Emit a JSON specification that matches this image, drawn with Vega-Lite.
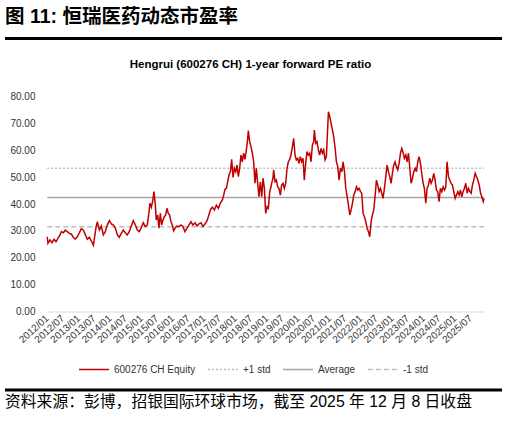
{
  "$schema": "https://vega.github.io/schema/vega-lite/v6.json",
  "background": "white",
  "padding": {"left": 5, "top": 7, "right": 6, "bottom": 5},
  "config": {
    "view": {"stroke": null},
    "font": "Liberation Sans",
    "title": {"color": "black"},
    "legend": {
      "orient": "bottom",
      "direction": "horizontal",
      "symbolType": "stroke",
      "symbolSize": 900,
      "symbolStrokeWidth": 1.5,
      "labelFontSize": 10,
      "labelFont": "Liberation Sans",
      "labelColor": "#333333",
      "labelOffset": 4,
      "columnPadding": 9,
      "offset": 9,
      "layout": {"bottom": {"anchor": "middle"}}
    }
  },
  "columns": 1,
  "spacing": 18.5,
  "resolve": {
    "scale": {"x": "independent", "y": "independent", "color": "independent", "strokeDash": "independent"},
    "legend": {"color": "independent", "strokeDash": "independent"}
  },
  "concat": [
    {
      "width": 497,
      "height": 3,
      "title": {
        "text": "图 11: 恒瑞医药动态市盈率",
        "anchor": "start",
        "font": "Liberation Sans, Noto Sans CJK SC",
        "fontSize": 19.5,
        "fontWeight": "bold",
        "offset": 9.5
      },
      "data": {"values": [{"from": 0, "to": 1}]},
      "mark": {"type": "rect", "color": "black"},
      "encoding": {
        "x": {"field": "from", "type": "quantitative", "scale": {"domain": [0, 1]}, "axis": null},
        "x2": {"field": "to"}
      }
    },
    {
      "columns": 1,
      "spacing": 14,
      "resolve": {
        "scale": {"x": "independent", "y": "independent", "color": "independent", "strokeDash": "independent"},
        "legend": {"color": "independent", "strokeDash": "independent"}
      },
      "concat": [
        {
          "width": 497,
          "height": 215,
          "title": {
            "text": "Hengrui (600276 CH) 1-year forward PE ratio",
            "font": "Liberation Sans",
            "fontSize": 11.5,
            "fontWeight": "bold",
            "anchor": "middle",
            "dx": -3,
            "offset": 21
          },
          "data": {
            "values": [
              {"series": "+1 std", "date": "2012-01-04", "pe": 53.3}, {"series": "+1 std", "date": "2025-12-08", "pe": 53.3},
              {"series": "Average", "date": "2012-01-04", "pe": 42.4}, {"series": "Average", "date": "2025-12-08", "pe": 42.4},
              {"series": "-1 std", "date": "2012-01-04", "pe": 31.5}, {"series": "-1 std", "date": "2025-12-08", "pe": 31.5},
              {"series": "600276 CH Equity", "date": "2012-01-04", "pe": 27.8}, {"series": "600276 CH Equity", "date": "2012-01-12", "pe": 25.4},
              {"series": "600276 CH Equity", "date": "2012-02-05", "pe": 26.6}, {"series": "600276 CH Equity", "date": "2012-02-28", "pe": 25.6},
              {"series": "600276 CH Equity", "date": "2012-03-23", "pe": 26.9}, {"series": "600276 CH Equity", "date": "2012-04-15", "pe": 26.0},
              {"series": "600276 CH Equity", "date": "2012-05-08", "pe": 27.2}, {"series": "600276 CH Equity", "date": "2012-06-01", "pe": 28.5},
              {"series": "600276 CH Equity", "date": "2012-06-16", "pe": 29.7}, {"series": "600276 CH Equity", "date": "2012-07-09", "pe": 29.3},
              {"series": "600276 CH Equity", "date": "2012-08-02", "pe": 30.3}, {"series": "600276 CH Equity", "date": "2012-08-25", "pe": 29.7},
              {"series": "600276 CH Equity", "date": "2012-09-17", "pe": 29.1}, {"series": "600276 CH Equity", "date": "2012-10-11", "pe": 28.8},
              {"series": "600276 CH Equity", "date": "2012-11-03", "pe": 27.6}, {"series": "600276 CH Equity", "date": "2012-11-26", "pe": 26.9},
              {"series": "600276 CH Equity", "date": "2012-12-19", "pe": 27.8}, {"series": "600276 CH Equity", "date": "2013-01-12", "pe": 29.3},
              {"series": "600276 CH Equity", "date": "2013-02-04", "pe": 30.8}, {"series": "600276 CH Equity", "date": "2013-02-27", "pe": 30.3},
              {"series": "600276 CH Equity", "date": "2013-03-23", "pe": 28.5}, {"series": "600276 CH Equity", "date": "2013-04-15", "pe": 26.9},
              {"series": "600276 CH Equity", "date": "2013-05-08", "pe": 27.6}, {"series": "600276 CH Equity", "date": "2013-05-31", "pe": 26.3},
              {"series": "600276 CH Equity", "date": "2013-06-24", "pe": 24.7}, {"series": "600276 CH Equity", "date": "2013-07-09", "pe": 27.8},
              {"series": "600276 CH Equity", "date": "2013-07-25", "pe": 31.3}, {"series": "600276 CH Equity", "date": "2013-08-09", "pe": 33.4},
              {"series": "600276 CH Equity", "date": "2013-09-02", "pe": 30.3}, {"series": "600276 CH Equity", "date": "2013-09-25", "pe": 31.8},
              {"series": "600276 CH Equity", "date": "2013-10-18", "pe": 28.5}, {"series": "600276 CH Equity", "date": "2013-11-10", "pe": 29.7},
              {"series": "600276 CH Equity", "date": "2013-12-03", "pe": 32.2}, {"series": "600276 CH Equity", "date": "2013-12-27", "pe": 33.8},
              {"series": "600276 CH Equity", "date": "2014-01-19", "pe": 32.6}, {"series": "600276 CH Equity", "date": "2014-02-11", "pe": 32.2},
              {"series": "600276 CH Equity", "date": "2014-03-07", "pe": 31.0}, {"series": "600276 CH Equity", "date": "2014-03-30", "pe": 28.5},
              {"series": "600276 CH Equity", "date": "2014-04-22", "pe": 27.6}, {"series": "600276 CH Equity", "date": "2014-05-16", "pe": 29.1},
              {"series": "600276 CH Equity", "date": "2014-06-08", "pe": 30.3}, {"series": "600276 CH Equity", "date": "2014-07-01", "pe": 29.3},
              {"series": "600276 CH Equity", "date": "2014-07-24", "pe": 28.5}, {"series": "600276 CH Equity", "date": "2014-08-16", "pe": 29.7},
              {"series": "600276 CH Equity", "date": "2014-09-09", "pe": 31.8}, {"series": "600276 CH Equity", "date": "2014-10-02", "pe": 33.8},
              {"series": "600276 CH Equity", "date": "2014-10-26", "pe": 32.2}, {"series": "600276 CH Equity", "date": "2014-11-18", "pe": 30.3},
              {"series": "600276 CH Equity", "date": "2014-12-11", "pe": 29.7}, {"series": "600276 CH Equity", "date": "2015-01-04", "pe": 31.3},
              {"series": "600276 CH Equity", "date": "2015-01-27", "pe": 33.0}, {"series": "600276 CH Equity", "date": "2015-02-19", "pe": 31.6},
              {"series": "600276 CH Equity", "date": "2015-03-14", "pe": 32.2}, {"series": "600276 CH Equity", "date": "2015-03-30", "pe": 35.9},
              {"series": "600276 CH Equity", "date": "2015-04-14", "pe": 40.3}, {"series": "600276 CH Equity", "date": "2015-04-30", "pe": 38.8},
              {"series": "600276 CH Equity", "date": "2015-05-15", "pe": 40.9}, {"series": "600276 CH Equity", "date": "2015-05-31", "pe": 44.6},
              {"series": "600276 CH Equity", "date": "2015-06-16", "pe": 39.6}, {"series": "600276 CH Equity", "date": "2015-06-27", "pe": 34.0},
              {"series": "600276 CH Equity", "date": "2015-07-13", "pe": 35.9}, {"series": "600276 CH Equity", "date": "2015-07-28", "pe": 31.0},
              {"series": "600276 CH Equity", "date": "2015-08-13", "pe": 36.5}, {"series": "600276 CH Equity", "date": "2015-08-28", "pe": 32.2},
              {"series": "600276 CH Equity", "date": "2015-09-13", "pe": 34.0}, {"series": "600276 CH Equity", "date": "2015-09-28", "pe": 35.3},
              {"series": "600276 CH Equity", "date": "2015-10-14", "pe": 35.9}, {"series": "600276 CH Equity", "date": "2015-10-29", "pe": 38.4},
              {"series": "600276 CH Equity", "date": "2015-11-14", "pe": 36.5}, {"series": "600276 CH Equity", "date": "2015-11-29", "pe": 35.9},
              {"series": "600276 CH Equity", "date": "2015-12-15", "pe": 33.4}, {"series": "600276 CH Equity", "date": "2015-12-31", "pe": 32.2},
              {"series": "600276 CH Equity", "date": "2016-01-15", "pe": 30.0}, {"series": "600276 CH Equity", "date": "2016-01-31", "pe": 31.0},
              {"series": "600276 CH Equity", "date": "2016-02-23", "pe": 31.8}, {"series": "600276 CH Equity", "date": "2016-03-17", "pe": 31.6},
              {"series": "600276 CH Equity", "date": "2016-04-09", "pe": 32.2}, {"series": "600276 CH Equity", "date": "2016-05-03", "pe": 31.6},
              {"series": "600276 CH Equity", "date": "2016-05-26", "pe": 29.7}, {"series": "600276 CH Equity", "date": "2016-06-18", "pe": 31.0},
              {"series": "600276 CH Equity", "date": "2016-07-12", "pe": 32.2}, {"series": "600276 CH Equity", "date": "2016-08-04", "pe": 33.4},
              {"series": "600276 CH Equity", "date": "2016-08-27", "pe": 32.2}, {"series": "600276 CH Equity", "date": "2016-09-20", "pe": 33.0},
              {"series": "600276 CH Equity", "date": "2016-10-13", "pe": 31.8}, {"series": "600276 CH Equity", "date": "2016-11-05", "pe": 32.6},
              {"series": "600276 CH Equity", "date": "2016-11-29", "pe": 33.0}, {"series": "600276 CH Equity", "date": "2016-12-22", "pe": 31.6},
              {"series": "600276 CH Equity", "date": "2017-01-15", "pe": 32.6}, {"series": "600276 CH Equity", "date": "2017-02-07", "pe": 33.8},
              {"series": "600276 CH Equity", "date": "2017-02-23", "pe": 35.3}, {"series": "600276 CH Equity", "date": "2017-03-18", "pe": 37.8},
              {"series": "600276 CH Equity", "date": "2017-04-10", "pe": 38.8}, {"series": "600276 CH Equity", "date": "2017-05-04", "pe": 37.8},
              {"series": "600276 CH Equity", "date": "2017-05-27", "pe": 39.6}, {"series": "600276 CH Equity", "date": "2017-06-19", "pe": 38.4},
              {"series": "600276 CH Equity", "date": "2017-07-12", "pe": 40.3}, {"series": "600276 CH Equity", "date": "2017-08-05", "pe": 41.5},
              {"series": "600276 CH Equity", "date": "2017-08-20", "pe": 43.3}, {"series": "600276 CH Equity", "date": "2017-09-05", "pe": 45.5},
              {"series": "600276 CH Equity", "date": "2017-09-20", "pe": 45.8}, {"series": "600276 CH Equity", "date": "2017-10-06", "pe": 48.3},
              {"series": "600276 CH Equity", "date": "2017-10-21", "pe": 50.8}, {"series": "600276 CH Equity", "date": "2017-11-06", "pe": 52.0},
              {"series": "600276 CH Equity", "date": "2017-11-21", "pe": 56.6}, {"series": "600276 CH Equity", "date": "2017-12-07", "pe": 49.9},
              {"series": "600276 CH Equity", "date": "2017-12-22", "pe": 53.3}, {"series": "600276 CH Equity", "date": "2018-01-07", "pe": 52.0},
              {"series": "600276 CH Equity", "date": "2018-01-22", "pe": 54.5}, {"series": "600276 CH Equity", "date": "2018-02-07", "pe": 50.2},
              {"series": "600276 CH Equity", "date": "2018-02-22", "pe": 53.3}, {"series": "600276 CH Equity", "date": "2018-03-09", "pe": 58.2},
              {"series": "600276 CH Equity", "date": "2018-03-25", "pe": 55.7}, {"series": "600276 CH Equity", "date": "2018-04-09", "pe": 58.9},
              {"series": "600276 CH Equity", "date": "2018-04-25", "pe": 56.6}, {"series": "600276 CH Equity", "date": "2018-05-11", "pe": 60.1},
              {"series": "600276 CH Equity", "date": "2018-05-26", "pe": 64.1}, {"series": "600276 CH Equity", "date": "2018-06-03", "pe": 67.3},
              {"series": "600276 CH Equity", "date": "2018-06-19", "pe": 63.2}, {"series": "600276 CH Equity", "date": "2018-07-04", "pe": 61.3},
              {"series": "600276 CH Equity", "date": "2018-07-20", "pe": 58.9}, {"series": "600276 CH Equity", "date": "2018-08-04", "pe": 55.7},
              {"series": "600276 CH Equity", "date": "2018-08-20", "pe": 47.7}, {"series": "600276 CH Equity", "date": "2018-09-04", "pe": 53.3},
              {"series": "600276 CH Equity", "date": "2018-09-20", "pe": 47.7}, {"series": "600276 CH Equity", "date": "2018-10-05", "pe": 42.7},
              {"series": "600276 CH Equity", "date": "2018-10-21", "pe": 48.3}, {"series": "600276 CH Equity", "date": "2018-11-06", "pe": 42.7},
              {"series": "600276 CH Equity", "date": "2018-11-21", "pe": 49.6}, {"series": "600276 CH Equity", "date": "2018-12-07", "pe": 45.8},
              {"series": "600276 CH Equity", "date": "2018-12-22", "pe": 36.5}, {"series": "600276 CH Equity", "date": "2019-01-07", "pe": 39.0},
              {"series": "600276 CH Equity", "date": "2019-01-22", "pe": 38.4}, {"series": "600276 CH Equity", "date": "2019-02-07", "pe": 44.6},
              {"series": "600276 CH Equity", "date": "2019-02-22", "pe": 46.4}, {"series": "600276 CH Equity", "date": "2019-03-02", "pe": 47.7},
              {"series": "600276 CH Equity", "date": "2019-03-17", "pe": 49.6}, {"series": "600276 CH Equity", "date": "2019-03-25", "pe": 52.7},
              {"series": "600276 CH Equity", "date": "2019-04-10", "pe": 48.3}, {"series": "600276 CH Equity", "date": "2019-04-25", "pe": 48.9},
              {"series": "600276 CH Equity", "date": "2019-05-11", "pe": 46.4}, {"series": "600276 CH Equity", "date": "2019-05-26", "pe": 45.8},
              {"series": "600276 CH Equity", "date": "2019-06-11", "pe": 43.3}, {"series": "600276 CH Equity", "date": "2019-06-26", "pe": 47.1},
              {"series": "600276 CH Equity", "date": "2019-07-12", "pe": 47.7}, {"series": "600276 CH Equity", "date": "2019-07-27", "pe": 45.8},
              {"series": "600276 CH Equity", "date": "2019-08-12", "pe": 47.7}, {"series": "600276 CH Equity", "date": "2019-08-28", "pe": 53.3},
              {"series": "600276 CH Equity", "date": "2019-09-12", "pe": 55.7}, {"series": "600276 CH Equity", "date": "2019-09-28", "pe": 56.6},
              {"series": "600276 CH Equity", "date": "2019-10-13", "pe": 58.2}, {"series": "600276 CH Equity", "date": "2019-10-29", "pe": 61.3},
              {"series": "600276 CH Equity", "date": "2019-11-13", "pe": 64.4}, {"series": "600276 CH Equity", "date": "2019-11-29", "pe": 58.2},
              {"series": "600276 CH Equity", "date": "2019-12-14", "pe": 56.4}, {"series": "600276 CH Equity", "date": "2019-12-30", "pe": 57.0},
              {"series": "600276 CH Equity", "date": "2020-01-14", "pe": 55.1}, {"series": "600276 CH Equity", "date": "2020-01-30", "pe": 57.6},
              {"series": "600276 CH Equity", "date": "2020-02-14", "pe": 55.7}, {"series": "600276 CH Equity", "date": "2020-03-01", "pe": 57.0},
              {"series": "600276 CH Equity", "date": "2020-03-16", "pe": 48.9}, {"series": "600276 CH Equity", "date": "2020-04-01", "pe": 55.1},
              {"series": "600276 CH Equity", "date": "2020-04-16", "pe": 59.5}, {"series": "600276 CH Equity", "date": "2020-05-02", "pe": 58.2},
              {"series": "600276 CH Equity", "date": "2020-05-18", "pe": 58.9}, {"series": "600276 CH Equity", "date": "2020-06-02", "pe": 55.7},
              {"series": "600276 CH Equity", "date": "2020-06-18", "pe": 61.9}, {"series": "600276 CH Equity", "date": "2020-07-03", "pe": 63.2},
              {"series": "600276 CH Equity", "date": "2020-07-11", "pe": 67.5}, {"series": "600276 CH Equity", "date": "2020-07-27", "pe": 62.6},
              {"series": "600276 CH Equity", "date": "2020-08-11", "pe": 63.2}, {"series": "600276 CH Equity", "date": "2020-08-27", "pe": 60.1},
              {"series": "600276 CH Equity", "date": "2020-09-11", "pe": 58.2}, {"series": "600276 CH Equity", "date": "2020-09-27", "pe": 60.7},
              {"series": "600276 CH Equity", "date": "2020-10-13", "pe": 58.9}, {"series": "600276 CH Equity", "date": "2020-10-28", "pe": 60.1},
              {"series": "600276 CH Equity", "date": "2020-11-13", "pe": 56.4}, {"series": "600276 CH Equity", "date": "2020-11-28", "pe": 57.6},
              {"series": "600276 CH Equity", "date": "2020-12-14", "pe": 68.8}, {"series": "600276 CH Equity", "date": "2020-12-22", "pe": 74.3},
              {"series": "600276 CH Equity", "date": "2021-01-07", "pe": 72.5}, {"series": "600276 CH Equity", "date": "2021-01-22", "pe": 70.0},
              {"series": "600276 CH Equity", "date": "2021-02-07", "pe": 67.5}, {"series": "600276 CH Equity", "date": "2021-02-22", "pe": 65.0},
              {"series": "600276 CH Equity", "date": "2021-03-10", "pe": 60.7}, {"series": "600276 CH Equity", "date": "2021-03-25", "pe": 55.7},
              {"series": "600276 CH Equity", "date": "2021-04-10", "pe": 53.9}, {"series": "600276 CH Equity", "date": "2021-04-25", "pe": 48.9},
              {"series": "600276 CH Equity", "date": "2021-05-11", "pe": 53.3}, {"series": "600276 CH Equity", "date": "2021-05-27", "pe": 52.0},
              {"series": "600276 CH Equity", "date": "2021-06-11", "pe": 55.7}, {"series": "600276 CH Equity", "date": "2021-06-27", "pe": 52.0},
              {"series": "600276 CH Equity", "date": "2021-07-12", "pe": 45.8}, {"series": "600276 CH Equity", "date": "2021-07-28", "pe": 42.7},
              {"series": "600276 CH Equity", "date": "2021-08-12", "pe": 39.6}, {"series": "600276 CH Equity", "date": "2021-08-28", "pe": 35.9},
              {"series": "600276 CH Equity", "date": "2021-09-12", "pe": 37.8}, {"series": "600276 CH Equity", "date": "2021-09-28", "pe": 40.3},
              {"series": "600276 CH Equity", "date": "2021-10-13", "pe": 43.3}, {"series": "600276 CH Equity", "date": "2021-10-29", "pe": 44.6},
              {"series": "600276 CH Equity", "date": "2021-11-14", "pe": 46.4}, {"series": "600276 CH Equity", "date": "2021-11-29", "pe": 45.2},
              {"series": "600276 CH Equity", "date": "2021-12-15", "pe": 45.8}, {"series": "600276 CH Equity", "date": "2021-12-31", "pe": 44.6},
              {"series": "600276 CH Equity", "date": "2022-01-14", "pe": 44.0}, {"series": "600276 CH Equity", "date": "2022-01-30", "pe": 36.5},
              {"series": "600276 CH Equity", "date": "2022-02-14", "pe": 35.3}, {"series": "600276 CH Equity", "date": "2022-03-02", "pe": 33.4},
              {"series": "600276 CH Equity", "date": "2022-03-17", "pe": 31.0}, {"series": "600276 CH Equity", "date": "2022-04-02", "pe": 29.7},
              {"series": "600276 CH Equity", "date": "2022-04-17", "pe": 27.8}, {"series": "600276 CH Equity", "date": "2022-05-03", "pe": 33.4},
              {"series": "600276 CH Equity", "date": "2022-05-18", "pe": 35.9}, {"series": "600276 CH Equity", "date": "2022-06-03", "pe": 37.8},
              {"series": "600276 CH Equity", "date": "2022-06-18", "pe": 42.7}, {"series": "600276 CH Equity", "date": "2022-07-04", "pe": 48.9},
              {"series": "600276 CH Equity", "date": "2022-07-19", "pe": 47.1}, {"series": "600276 CH Equity", "date": "2022-08-04", "pe": 44.6},
              {"series": "600276 CH Equity", "date": "2022-08-19", "pe": 45.8}, {"series": "600276 CH Equity", "date": "2022-09-04", "pe": 44.0},
              {"series": "600276 CH Equity", "date": "2022-09-19", "pe": 42.1}, {"series": "600276 CH Equity", "date": "2022-10-05", "pe": 45.8},
              {"series": "600276 CH Equity", "date": "2022-10-21", "pe": 50.2}, {"series": "600276 CH Equity", "date": "2022-11-05", "pe": 54.5},
              {"series": "600276 CH Equity", "date": "2022-11-21", "pe": 52.0}, {"series": "600276 CH Equity", "date": "2022-12-06", "pe": 50.2},
              {"series": "600276 CH Equity", "date": "2022-12-22", "pe": 47.7}, {"series": "600276 CH Equity", "date": "2023-01-06", "pe": 51.4},
              {"series": "600276 CH Equity", "date": "2023-01-22", "pe": 54.5}, {"series": "600276 CH Equity", "date": "2023-02-06", "pe": 55.7},
              {"series": "600276 CH Equity", "date": "2023-02-22", "pe": 53.9}, {"series": "600276 CH Equity", "date": "2023-03-09", "pe": 52.7},
              {"series": "600276 CH Equity", "date": "2023-03-25", "pe": 55.1}, {"series": "600276 CH Equity", "date": "2023-04-10", "pe": 58.9},
              {"series": "600276 CH Equity", "date": "2023-04-25", "pe": 60.7}, {"series": "600276 CH Equity", "date": "2023-05-11", "pe": 59.1},
              {"series": "600276 CH Equity", "date": "2023-05-26", "pe": 57.0}, {"series": "600276 CH Equity", "date": "2023-06-11", "pe": 58.2},
              {"series": "600276 CH Equity", "date": "2023-06-26", "pe": 55.7}, {"series": "600276 CH Equity", "date": "2023-07-12", "pe": 58.9},
              {"series": "600276 CH Equity", "date": "2023-07-28", "pe": 53.3}, {"series": "600276 CH Equity", "date": "2023-08-12", "pe": 47.7},
              {"series": "600276 CH Equity", "date": "2023-08-28", "pe": 49.6}, {"series": "600276 CH Equity", "date": "2023-09-12", "pe": 52.0},
              {"series": "600276 CH Equity", "date": "2023-09-28", "pe": 53.3}, {"series": "600276 CH Equity", "date": "2023-10-13", "pe": 52.0},
              {"series": "600276 CH Equity", "date": "2023-10-29", "pe": 55.7}, {"series": "600276 CH Equity", "date": "2023-11-13", "pe": 57.6},
              {"series": "600276 CH Equity", "date": "2023-11-29", "pe": 55.1}, {"series": "600276 CH Equity", "date": "2023-12-14", "pe": 51.4},
              {"series": "600276 CH Equity", "date": "2023-12-30", "pe": 47.7}, {"series": "600276 CH Equity", "date": "2024-01-14", "pe": 45.8},
              {"series": "600276 CH Equity", "date": "2024-01-30", "pe": 40.3}, {"series": "600276 CH Equity", "date": "2024-02-14", "pe": 45.8},
              {"series": "600276 CH Equity", "date": "2024-03-01", "pe": 47.1}, {"series": "600276 CH Equity", "date": "2024-03-16", "pe": 49.6},
              {"series": "600276 CH Equity", "date": "2024-04-01", "pe": 47.7}, {"series": "600276 CH Equity", "date": "2024-04-16", "pe": 48.9},
              {"series": "600276 CH Equity", "date": "2024-05-02", "pe": 51.4}, {"series": "600276 CH Equity", "date": "2024-05-17", "pe": 48.9},
              {"series": "600276 CH Equity", "date": "2024-06-02", "pe": 45.2}, {"series": "600276 CH Equity", "date": "2024-06-17", "pe": 44.6},
              {"series": "600276 CH Equity", "date": "2024-07-03", "pe": 40.9}, {"series": "600276 CH Equity", "date": "2024-07-18", "pe": 45.8},
              {"series": "600276 CH Equity", "date": "2024-08-03", "pe": 44.6}, {"series": "600276 CH Equity", "date": "2024-08-19", "pe": 46.4},
              {"series": "600276 CH Equity", "date": "2024-09-03", "pe": 45.2}, {"series": "600276 CH Equity", "date": "2024-09-19", "pe": 46.4},
              {"series": "600276 CH Equity", "date": "2024-10-04", "pe": 55.7}, {"series": "600276 CH Equity", "date": "2024-10-20", "pe": 50.2},
              {"series": "600276 CH Equity", "date": "2024-11-04", "pe": 48.9}, {"series": "600276 CH Equity", "date": "2024-11-20", "pe": 47.7},
              {"series": "600276 CH Equity", "date": "2024-12-05", "pe": 47.1}, {"series": "600276 CH Equity", "date": "2024-12-21", "pe": 44.6},
              {"series": "600276 CH Equity", "date": "2025-01-06", "pe": 42.1}, {"series": "600276 CH Equity", "date": "2025-01-21", "pe": 43.3},
              {"series": "600276 CH Equity", "date": "2025-02-06", "pe": 44.6}, {"series": "600276 CH Equity", "date": "2025-02-21", "pe": 43.3},
              {"series": "600276 CH Equity", "date": "2025-03-09", "pe": 45.2}, {"series": "600276 CH Equity", "date": "2025-03-24", "pe": 42.7},
              {"series": "600276 CH Equity", "date": "2025-04-09", "pe": 44.6}, {"series": "600276 CH Equity", "date": "2025-04-24", "pe": 45.8},
              {"series": "600276 CH Equity", "date": "2025-05-10", "pe": 47.7}, {"series": "600276 CH Equity", "date": "2025-05-26", "pe": 44.0},
              {"series": "600276 CH Equity", "date": "2025-06-10", "pe": 45.8}, {"series": "600276 CH Equity", "date": "2025-06-26", "pe": 44.6},
              {"series": "600276 CH Equity", "date": "2025-07-11", "pe": 44.0}, {"series": "600276 CH Equity", "date": "2025-07-27", "pe": 47.1},
              {"series": "600276 CH Equity", "date": "2025-08-11", "pe": 48.9}, {"series": "600276 CH Equity", "date": "2025-08-27", "pe": 51.4},
              {"series": "600276 CH Equity", "date": "2025-09-12", "pe": 50.2}, {"series": "600276 CH Equity", "date": "2025-09-27", "pe": 48.9},
              {"series": "600276 CH Equity", "date": "2025-10-13", "pe": 47.1}, {"series": "600276 CH Equity", "date": "2025-10-29", "pe": 44.0},
              {"series": "600276 CH Equity", "date": "2025-11-13", "pe": 42.7}, {"series": "600276 CH Equity", "date": "2025-11-29", "pe": 40.9},
              {"series": "600276 CH Equity", "date": "2025-12-08", "pe": 42.1}
            ]
          },
          "mark": {"type": "line", "strokeWidth": 1.5},
          "encoding": {
            "x": {
              "field": "date",
              "type": "temporal",
              "title": null,
              "scale": {
                "domain": [{"year": 2012, "month": 1, "date": 1}, {"year": 2025, "month": 12, "date": 8}],
                "range": [42, 479]
              },
              "axis": {
                "values": [
                  {"year": 2012, "month": 1, "date": 1}, {"year": 2012, "month": 7, "date": 1},
                  {"year": 2013, "month": 1, "date": 1}, {"year": 2013, "month": 7, "date": 1},
                  {"year": 2014, "month": 1, "date": 1}, {"year": 2014, "month": 7, "date": 1},
                  {"year": 2015, "month": 1, "date": 1}, {"year": 2015, "month": 7, "date": 1},
                  {"year": 2016, "month": 1, "date": 1}, {"year": 2016, "month": 7, "date": 1},
                  {"year": 2017, "month": 1, "date": 1}, {"year": 2017, "month": 7, "date": 1},
                  {"year": 2018, "month": 1, "date": 1}, {"year": 2018, "month": 7, "date": 1},
                  {"year": 2019, "month": 1, "date": 1}, {"year": 2019, "month": 7, "date": 1},
                  {"year": 2020, "month": 1, "date": 1}, {"year": 2020, "month": 7, "date": 1},
                  {"year": 2021, "month": 1, "date": 1}, {"year": 2021, "month": 7, "date": 1},
                  {"year": 2022, "month": 1, "date": 1}, {"year": 2022, "month": 7, "date": 1},
                  {"year": 2023, "month": 1, "date": 1}, {"year": 2023, "month": 7, "date": 1},
                  {"year": 2024, "month": 1, "date": 1}, {"year": 2024, "month": 7, "date": 1},
                  {"year": 2025, "month": 1, "date": 1}, {"year": 2025, "month": 7, "date": 1}
                ],
                "format": "%Y/%m",
                "labelAngle": -42,
                "labelAlign": "right",
                "labelBaseline": "middle",
                "labelFlush": false,
                "labelOverlap": false,
                "labelFontSize": 10,
                "labelColor": "#333333",
                "labelPadding": 5,
                "ticks": false,
                "grid": false,
                "domainColor": "#D9D9D9",
                "domainWidth": 1
              }
            },
            "y": {
              "field": "pe",
              "type": "quantitative",
              "title": null,
              "scale": {"domain": [0, 80], "nice": false},
              "axis": {
                "values": [0, 10, 20, 30, 40, 50, 60, 70, 80],
                "format": ".2f",
                "offset": -42,
                "domain": false,
                "ticks": false,
                "grid": false,
                "labelFontSize": 10,
                "labelColor": "#333333",
                "labelPadding": 12
              }
            },
            "color": {
              "field": "series",
              "type": "nominal",
              "title": null,
              "scale": {
                "domain": ["600276 CH Equity", "+1 std", "Average", "-1 std"],
                "range": ["#C00000", "#BFBFBF", "#A6A6A6", "#BFBFBF"]
              }
            },
            "strokeDash": {
              "field": "series",
              "type": "nominal",
              "title": null,
              "scale": {
                "domain": ["600276 CH Equity", "+1 std", "Average", "-1 std"],
                "range": [[1, 0], [2, 2], [1, 0], [5, 3]]
              }
            }
          }
        },
        {
          "width": 497,
          "height": 3,
          "title": {
            "text": "资料来源：彭博，招银国际环球市场，截至 2025 年 12 月 8 日收盘",
            "orient": "bottom",
            "anchor": "start",
            "font": "Liberation Sans, Noto Sans CJK SC",
            "fontSize": 15.8,
            "fontWeight": "normal",
            "offset": 3
          },
          "data": {"values": [{"from": 0, "to": 1}]},
          "mark": {"type": "rect", "color": "black"},
          "encoding": {
            "x": {"field": "from", "type": "quantitative", "scale": {"domain": [0, 1]}, "axis": null},
            "x2": {"field": "to"}
          }
        }
      ]
    }
  ]
}
